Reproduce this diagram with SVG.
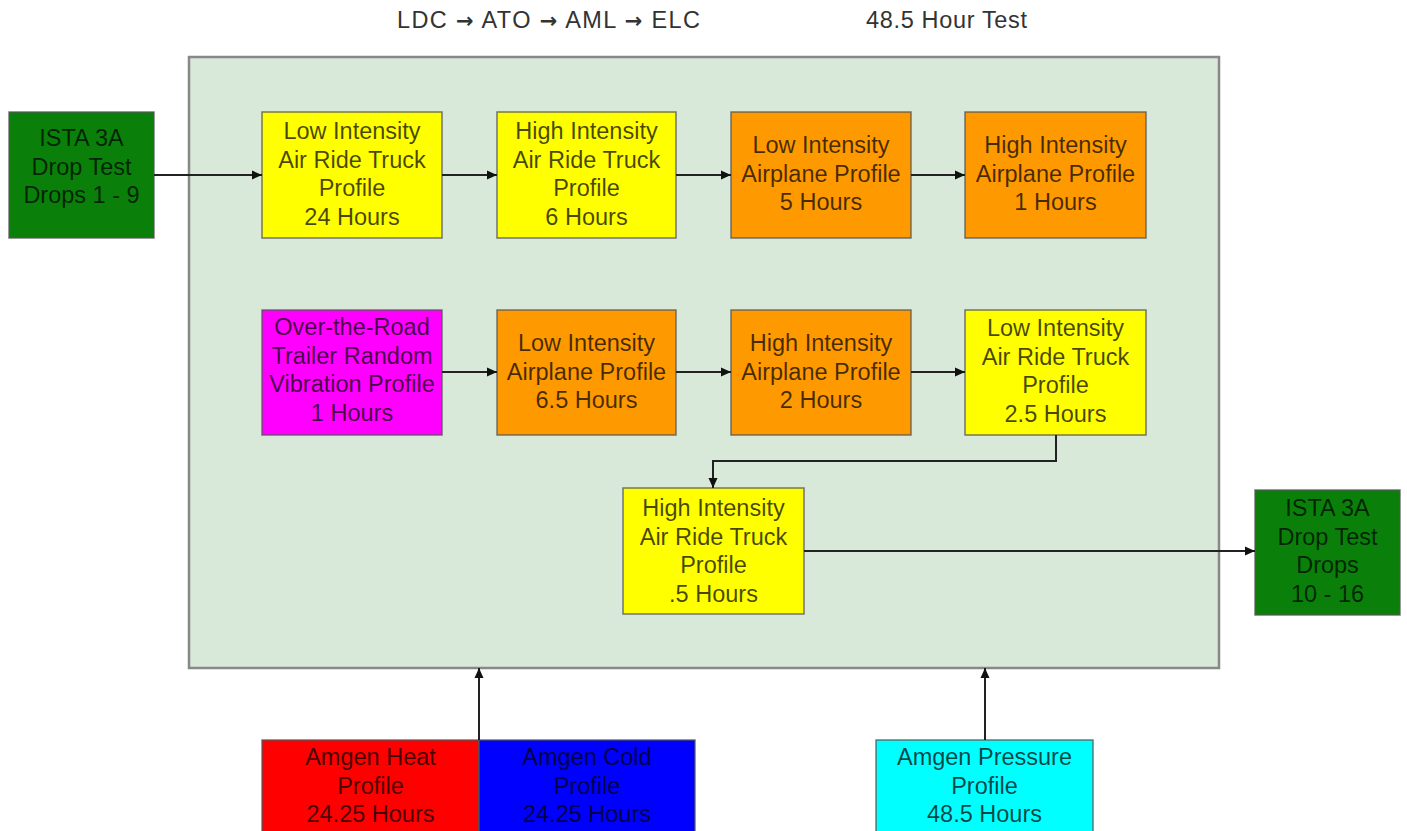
<svg xmlns="http://www.w3.org/2000/svg" width="1407" height="831" viewBox="0 0 1407 831">
<defs>
<marker id="ah" viewBox="0 0 10 10" refX="10" refY="5" markerWidth="10" markerHeight="10" markerUnits="userSpaceOnUse" orient="auto">
<path d="M0,0.5 L10,5 L0,9.5 Z" fill="#111"/>
</marker>
<style>
.t{font-family:"Liberation Sans",Arial,sans-serif;font-size:23.5px;text-anchor:middle;fill:#000;fill-opacity:0.72}
.h{font-family:"Liberation Sans",Arial,sans-serif;font-size:23.5px;fill:#333}
.ar{font-family:"DejaVu Sans",sans-serif;font-weight:bold;font-size:21px}
.b{stroke:#555;stroke-width:1.5;stroke-opacity:0.8}
.c{stroke:#222;stroke-width:2;fill:none}
.y{fill:#ffff00}.o{fill:#ff9900}.m{fill:#ff00ff}.g{fill:#0a800a}.r{fill:#ff0000}.u{fill:#0000ff}.cy{fill:#00ffff}
</style>
</defs>
<rect width="1407" height="831" fill="#ffffff"/>
<text class="h" x="397" y="28" textLength="303" lengthAdjust="spacing">LDC <tspan class="ar">→</tspan> ATO <tspan class="ar">→</tspan> AML <tspan class="ar">→</tspan> ELC</text>
<text class="h" x="866" y="28" textLength="161" lengthAdjust="spacing">48.5 Hour Test</text>
<g id="container"><rect x="189" y="57" width="1030" height="611" fill="#d9e9d9" stroke="#888" stroke-width="2.5"/></g>
<g id="n-drop1"><rect class="b g" x="9" y="112" width="145" height="126"/>
<text class="t" x="81.5" y="146">ISTA 3A</text><text class="t" x="81.5" y="174.5">Drop Test</text><text class="t" x="81.5" y="203">Drops 1 - 9</text></g>
<g id="n-r1a"><rect class="b y" x="262" y="112" width="180" height="126"/>
<text class="t" x="352" y="139">Low Intensity</text><text class="t" x="352" y="167.5">Air Ride Truck</text><text class="t" x="352" y="196">Profile</text><text class="t" x="352" y="224.5">24 Hours</text></g>
<g id="n-r1b"><rect class="b y" x="497" y="112" width="179" height="126"/>
<text class="t" x="586.5" y="139">High Intensity</text><text class="t" x="586.5" y="167.5">Air Ride Truck</text><text class="t" x="586.5" y="196">Profile</text><text class="t" x="586.5" y="224.5">6 Hours</text></g>
<g id="n-r1c"><rect class="b o" x="731" y="112" width="180" height="126"/>
<text class="t" x="821" y="153">Low Intensity</text><text class="t" x="821" y="181.5">Airplane Profile</text><text class="t" x="821" y="210">5 Hours</text></g>
<g id="n-r1d"><rect class="b o" x="965" y="112" width="181" height="126"/>
<text class="t" x="1055.5" y="153">High Intensity</text><text class="t" x="1055.5" y="181.5">Airplane Profile</text><text class="t" x="1055.5" y="210">1 Hours</text></g>
<g id="n-r2a"><rect class="b m" x="262" y="310" width="180" height="125"/>
<text class="t" x="352" y="335">Over-the-Road</text><text class="t" x="352" y="363.5">Trailer Random</text><text class="t" x="352" y="392">Vibration Profile</text><text class="t" x="352" y="420.5">1 Hours</text></g>
<g id="n-r2b"><rect class="b o" x="497" y="310" width="179" height="125"/>
<text class="t" x="586.5" y="351">Low Intensity</text><text class="t" x="586.5" y="379.5">Airplane Profile</text><text class="t" x="586.5" y="408">6.5 Hours</text></g>
<g id="n-r2c"><rect class="b o" x="731" y="310" width="180" height="125"/>
<text class="t" x="821" y="351">High Intensity</text><text class="t" x="821" y="379.5">Airplane Profile</text><text class="t" x="821" y="408">2 Hours</text></g>
<g id="n-r2d"><rect class="b y" x="965" y="310" width="181" height="125"/>
<text class="t" x="1055.5" y="336">Low Intensity</text><text class="t" x="1055.5" y="364.5">Air Ride Truck</text><text class="t" x="1055.5" y="393">Profile</text><text class="t" x="1055.5" y="421.5">2.5 Hours</text></g>
<g id="n-r3"><rect class="b y" x="623" y="488" width="181" height="126"/>
<text class="t" x="713.5" y="516">High Intensity</text><text class="t" x="713.5" y="544.5">Air Ride Truck</text><text class="t" x="713.5" y="573">Profile</text><text class="t" x="713.5" y="601.5">.5 Hours</text></g>
<g id="n-drop2"><rect class="b g" x="1255" y="490" width="145" height="125"/>
<text class="t" x="1327.5" y="516">ISTA 3A</text><text class="t" x="1327.5" y="544.5">Drop Test</text><text class="t" x="1327.5" y="573">Drops</text><text class="t" x="1327.5" y="601.5">10 - 16</text></g>
<g id="n-heat"><rect class="b r" x="262" y="740" width="217" height="125"/>
<text class="t" x="370.5" y="765">Amgen Heat</text><text class="t" x="370.5" y="793.5">Profile</text><text class="t" x="370.5" y="822">24.25 Hours</text></g>
<g id="n-cold"><rect class="b u" x="479" y="740" width="216" height="125"/>
<text class="t" x="587" y="765">Amgen Cold</text><text class="t" x="587" y="793.5">Profile</text><text class="t" x="587" y="822">24.25 Hours</text></g>
<g id="n-pressure"><rect class="b cy" x="876" y="740" width="217" height="125"/>
<text class="t" x="984.5" y="765">Amgen Pressure</text><text class="t" x="984.5" y="793.5">Profile</text><text class="t" x="984.5" y="822">48.5 Hours</text></g>
<g id="connectors">
<path class="c" d="M154,175 H262" marker-end="url(#ah)"/>
<path class="c" d="M442,175 H497" marker-end="url(#ah)"/>
<path class="c" d="M676,175 H731" marker-end="url(#ah)"/>
<path class="c" d="M911,175 H965" marker-end="url(#ah)"/>
<path class="c" d="M442,372 H497" marker-end="url(#ah)"/>
<path class="c" d="M676,372 H731" marker-end="url(#ah)"/>
<path class="c" d="M911,372 H965" marker-end="url(#ah)"/>
<path class="c" d="M1056,435 V461 H713 V488" marker-end="url(#ah)"/>
<path class="c" d="M804,551 H1255" marker-end="url(#ah)"/>
<path class="c" d="M479,740 V668" marker-end="url(#ah)"/>
<path class="c" d="M985,740 V668" marker-end="url(#ah)"/>
</g>
</svg>
